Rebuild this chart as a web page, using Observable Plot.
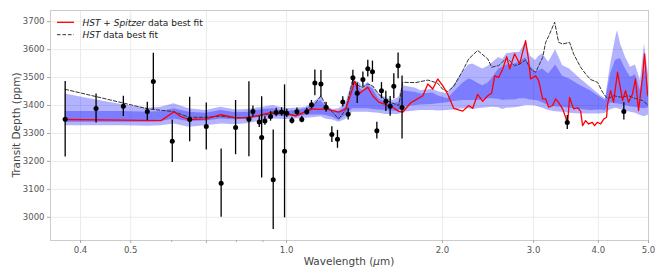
<!DOCTYPE html>
<html><head><meta charset="utf-8">
<script src="https://cdn.jsdelivr.net/npm/d3@7"></script>
<script src="https://cdn.jsdelivr.net/npm/@observablehq/plot@0.6"></script>
<style>
body{margin:0;background:#fff;font-family:"DejaVu Sans",sans-serif;}
#wrap{position:relative;width:664px;height:277px;}
</style></head><body><div id="wrap"></div>
<script>
// Observed transit depths
const obsWave = [0.3736,0.4286,0.4839,0.5383,0.5529,0.6015,0.6499,0.6997,0.7475,0.7971,0.8458,0.861,0.8855,0.8951,0.9081,0.9313,0.9423,0.9548,0.978,0.991,1.001,1.024,1.047,1.070,1.094,1.117,1.134,1.165,1.192,1.223,1.254,1.284,1.315,1.343,1.369,1.404,1.435,1.465,1.494,1.525,1.555,1.585,1.611,1.642,1.671,3.484,4.481];
const obsDepth = [3351,3389,3397,3379,3486,3272,3350,3325,3122,3321,3351,3379,3341,3286,3345,3361,3134,3375,3377,3236,3372,3346,3378,3350,3378,3403,3481,3477,3394,3296,3279,3413,3369,3499,3444,3493,3532,3521,3310,3453,3415,3397,3469,3542,3393,3339,3379];
const obsErr = [135,52,36,33,101,76,80,84,122,97,134,19,20,145,16,17,178,15,15,238,15,12,13,12,12,15,46,48,18,28,32,18,21,27,37,27,30,38,30,29,36,35,45,46,113,25,31];

// Posterior bands (2 sigma: lo2/hi2, 1 sigma: lo1/hi1)
const bandWave = [0.3736,0.4286,0.4832,0.5398,0.5722,0.6063,0.6477,0.6989,0.7467,0.7985,0.8457,0.9000,0.9410,0.9968,1.042,1.089,1.124,1.165,1.191,1.228,1.261,1.301,1.342,1.379,1.404,1.435,1.467,1.507,1.555,1.604,1.647,1.676,1.776,1.816,1.916,1.958,2.047,2.102,2.189,2.248,2.288,2.339,2.392,2.446,2.490,2.568,2.614,2.661,2.757,2.819,2.895,2.960,3.027,3.068,3.123,3.207,3.308,3.413,3.520,3.697,3.865,4.041,4.130,4.224,4.318,4.357,4.416,4.514,4.616,4.719,4.826,4.912,5.000];
const lo2 = [3328,3328,3328,3326,3328,3334,3322,3328,3334,3331,3336,3346,3352,3350,3352,3354,3356,3360,3352,3348,3340,3350,3376,3376,3376,3376,3374,3372,3368,3368,3368,3376,3380,3382,3382,3380,3382,3384,3388,3388,3386,3388,3390,3392,3394,3392,3386,3390,3392,3395,3400,3400,3398,3395,3390,3382,3378,3376,3372,3370,3370,3370,3372,3385,3390,3388,3386,3380,3376,3372,3364,3360,3366];
const lo1 = [3340,3340,3340,3340,3343,3352,3343,3345,3352,3349,3352,3360,3364,3360,3362,3364,3366,3366,3364,3358,3346,3364,3388,3388,3388,3388,3386,3384,3382,3380,3378,3394,3400,3402,3404,3406,3410,3414,3418,3418,3418,3418,3420,3424,3424,3422,3418,3420,3420,3424,3424,3420,3418,3416,3410,3400,3396,3394,3390,3386,3382,3384,3382,3410,3406,3406,3404,3400,3396,3394,3390,3388,3392];
const hi1 = [3379,3379,3379,3376,3379,3388,3376,3372,3382,3374,3376,3386,3388,3379,3382,3388,3400,3418,3394,3382,3379,3394,3477,3465,3453,3471,3460,3424,3412,3406,3412,3453,3447,3441,3445,3435,3424,3447,3480,3495,3490,3480,3471,3480,3495,3530,3537,3545,3549,3555,3572,3540,3519,3525,3531,3513,3545,3505,3495,3471,3453,3429,3418,3513,3561,3565,3567,3531,3501,3510,3453,3537,3460];
const hi2 = [3441,3420,3403,3390,3394,3406,3388,3382,3394,3384,3386,3394,3400,3388,3390,3394,3408,3432,3400,3386,3388,3406,3489,3483,3465,3483,3468,3441,3429,3418,3429,3471,3462,3453,3458,3450,3441,3471,3520,3545,3549,3540,3531,3540,3550,3572,3565,3585,3590,3590,3626,3575,3561,3575,3585,3555,3600,3543,3531,3495,3465,3435,3424,3545,3640,3668,3620,3573,3537,3545,3489,3620,3510];

// HST + Spitzer best fit
const fitWave = [0.3736,0.4832,0.5722,0.6063,0.6253,0.6477,0.6989,0.7467,0.7985,0.8457,0.9000,0.9410,0.9968,1.042,1.089,1.124,1.154,1.191,1.228,1.261,1.301,1.331,1.354,1.379,1.404,1.435,1.467,1.507,1.555,1.604,1.647,1.676,1.737,1.776,1.833,1.874,1.916,1.958,2.002,2.047,2.102,2.189,2.248,2.288,2.339,2.392,2.446,2.490,2.523,2.568,2.614,2.661,2.697,2.757,2.819,2.895,2.934,2.960,3.027,3.068,3.123,3.165,3.207,3.265,3.308,3.353,3.413,3.459,3.489,3.520,3.583,3.648,3.697,3.730,3.780,3.831,3.894,3.934,3.981,4.041,4.101,4.150,4.168,4.224,4.280,4.357,4.455,4.514,4.575,4.657,4.719,4.783,4.868,4.912,4.978,5.000];
const fitDepth = [3350,3348,3346,3378,3360,3350,3352,3367,3356,3356,3368,3376,3372,3362,3379,3388,3386,3388,3382,3376,3388,3441,3487,3441,3453,3465,3435,3412,3403,3394,3379,3376,3410,3420,3435,3477,3459,3495,3471,3441,3390,3380,3400,3390,3440,3415,3435,3445,3506,3500,3530,3575,3531,3585,3549,3632,3561,3495,3506,3489,3424,3424,3394,3400,3424,3410,3388,3358,3334,3429,3388,3392,3380,3328,3346,3334,3340,3328,3340,3334,3352,3358,3406,3453,3412,3519,3418,3453,3412,3441,3495,3382,3500,3585,3441,3430];

// HST-only best fit
const hstWave = [0.3736,0.5398,0.6063,0.6477,0.6989,0.7467,0.7985,0.8457,0.9000,0.9410,0.9968,1.042,1.089,1.124,1.165,1.191,1.228,1.261,1.301,1.342,1.379,1.404,1.435,1.467,1.507,1.555,1.604,1.647,1.676,1.776,1.874,1.958,2.002,2.047,2.102,2.189,2.248,2.339,2.446,2.490,2.568,2.661,2.757,2.819,2.895,2.960,3.027,3.123,3.165,3.207,3.294,3.353,3.413,3.520,3.583,3.697,3.780,3.865,3.987,4.077,4.168,4.280,4.416,4.575,4.719,4.868,5.000];
const hstDepth = [3458,3388,3378,3358,3358,3362,3356,3358,3366,3372,3370,3364,3378,3395,3435,3400,3375,3352,3385,3493,3470,3465,3477,3470,3440,3418,3408,3400,3483,3482,3491,3480,3458,3450,3468,3525,3567,3597,3567,3537,3543,3570,3543,3548,3563,3530,3519,3572,3626,3648,3698,3626,3620,3626,3585,3537,3513,3493,3483,3447,3424,3435,3430,3435,3425,3418,3400];

const xTicks = [0.4,0.5,0.7,1.0,2.0,3.0,4.0,5.0];
const xMinor = [0.6,0.8,0.9];
const yTicks = [3000,3100,3200,3300,3400,3500,3600,3700];

const obs = obsWave.map((w,i)=>({w, d:obsDepth[i], e:obsErr[i]}));
const band = bandWave.map((w,i)=>({w, lo2:lo2[i], lo1:lo1[i], hi1:hi1[i], hi2:hi2[i]}));
const fit = fitWave.map((w,i)=>({w, d:fitDepth[i]}));
const hst = hstWave.map((w,i)=>({w, d:hstDepth[i]}));

const chart = Plot.plot({
  width: 664, height: 277,
  marginLeft: 50, marginRight: 16, marginTop: 10, marginBottom: 37,
  style: {fontFamily: "DejaVu Sans", fontSize: "8.5px", color: "#555", background: "#fff"},
  x: {type: "log", domain: [0.35, 5.0], label: null},
  y: {domain: [2917, 3740], label: null},
  marks: [
    Plot.gridX(xTicks, {stroke: "#ebebeb", strokeOpacity: 1}),
    Plot.gridY(yTicks, {stroke: "#ebebeb", strokeOpacity: 1}),
    Plot.areaY(band, {x: "w", y1: "lo2", y2: "hi2", fill: "blue", fillOpacity: 0.3}),
    Plot.areaY(band, {x: "w", y1: "lo1", y2: "hi1", fill: "blue", fillOpacity: 0.3}),
    Plot.line(hst, {x: "w", y: "d", stroke: "#333", strokeWidth: 1, strokeDasharray: "3.5,2"}),
    Plot.line(fit, {x: "w", y: "d", stroke: "red", strokeWidth: 1.3}),
    Plot.ruleX(obs, {x: "w", y1: d => d.d - d.e, y2: d => d.d + d.e, stroke: "black", strokeWidth: 1.3}),
    Plot.dot(obs, {x: "w", y: "d", r: 2.5, fill: "black"}),
    Plot.frame({stroke: "#ccc"}),
    Plot.axisX(xTicks, {tickFormat: d3.format(".1f"), tickSize: 3, tickPadding: 3, stroke: "#aaa", label: null}),
    Plot.axisX(xMinor, {tickFormat: () => "", tickSize: 2, stroke: "#aaa", label: null}),
    Plot.axisY(yTicks, {tickFormat: d => String(d), tickSize: 3, tickPadding: 3, stroke: "#aaa", label: null})
  ]
});
document.getElementById("wrap").appendChild(chart);

// Axis titles and legend
const svg = d3.select(chart);
const xl = svg.append("text").attr("x", 349).attr("y", 265).attr("text-anchor", "middle")
  .attr("font-size", 10.5).attr("fill", "#444").attr("font-family", "DejaVu Sans");
xl.append("tspan").text("Wavelength (");
xl.append("tspan").attr("font-style", "italic").text("μ");
xl.append("tspan").text("m)");
svg.append("text").attr("transform", "translate(20,125) rotate(-90)").attr("text-anchor", "middle")
  .attr("font-size", 10.5).attr("fill", "#444").attr("font-family", "DejaVu Sans")
  .text("Transit Depth (ppm)");

const lg = svg.append("g").attr("font-family", "DejaVu Sans").attr("font-size", 9).attr("fill", "#222").attr("text-anchor", "start");
lg.append("line").attr("x1", 57).attr("x2", 74).attr("y1", 22.3).attr("y2", 22.3).attr("stroke", "red").attr("stroke-width", 1.3);
lg.append("line").attr("x1", 57).attr("x2", 74).attr("y1", 34.7).attr("y2", 34.7).attr("stroke", "#333").attr("stroke-width", 1).attr("stroke-dasharray", "3.5,2");
const t1 = lg.append("text").attr("x", 82.5).attr("y", 25.5).attr("text-anchor", "start");
t1.append("tspan").attr("font-style", "italic").text("HST");
t1.append("tspan").text(" + ");
t1.append("tspan").attr("font-style", "italic").text("Spitzer");
t1.append("tspan").text(" data best fit");
const t2 = lg.append("text").attr("x", 82.5).attr("y", 38).attr("text-anchor", "start");
t2.append("tspan").attr("font-style", "italic").text("HST");
t2.append("tspan").text(" data best fit");
</script></body></html>
